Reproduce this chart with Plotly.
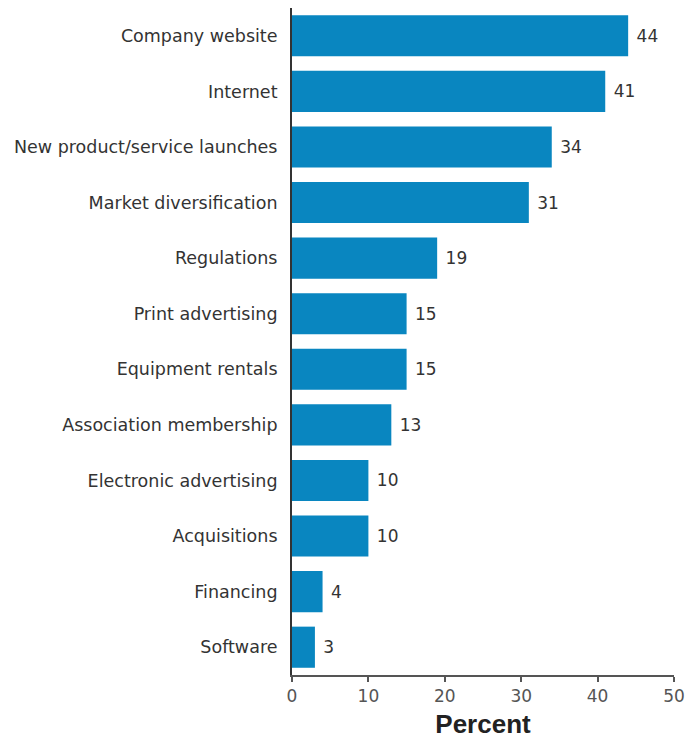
import plotly.graph_objects as go

categories = ["Company website", "Internet", "New product/service launches",
              "Market diversification", "Regulations", "Print advertising",
              "Equipment rentals", "Association membership", "Electronic advertising",
              "Acquisitions", "Financing", "Software"]
values = [44, 41, 34, 31, 19, 15, 15, 13, 10, 10, 4, 3]
tick_vals = [0, 10, 20, 30, 40, 50]

fig = go.Figure(go.Bar(
    x=values, y=categories, orientation="h",
    marker=dict(color="#0986c0", line=dict(width=0)),
    text=[" " + str(v) for v in values], textposition="outside",
    textfont=dict(family="DejaVu Sans", size=17, color="#333333"),
    cliponaxis=False,
))

fig.update_layout(
    width=692, height=731,
    margin=dict(l=284, r=26, t=0, b=64),
    paper_bgcolor="white", plot_bgcolor="white",
    bargap=0.26,
    showlegend=False,
    xaxis=dict(range=[0, 50], tickvals=tick_vals, showgrid=False, zeroline=False,
               showline=True, linecolor="#555555", linewidth=2,
               ticks="outside", ticklen=5, tickcolor="#555555", tickwidth=2,
               tickfont=dict(family="DejaVu Sans", size=17, color="#555555"),
               title=dict(text="<b>Percent</b>", standoff=9,
                          font=dict(family="Liberation Sans", size=26, color="#222222"))),
    yaxis=dict(autorange="reversed", showgrid=False, zeroline=False,
               showline=True, linecolor="#333333", linewidth=2, ticks="",
               ticklabelstandoff=9,
               tickfont=dict(family="DejaVu Sans", size=17.5, color="#333333")),
)

fig.write_html("out.html")
